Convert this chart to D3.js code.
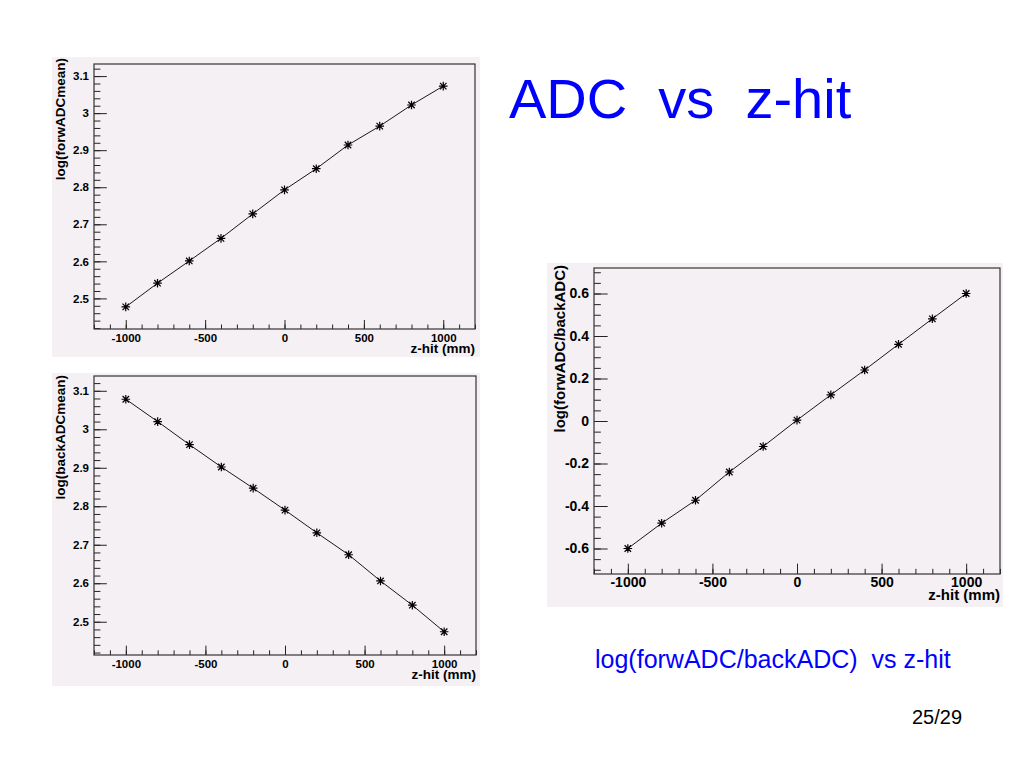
<!DOCTYPE html>
<html>
<head>
<meta charset="utf-8">
<script src="https://cdn.jsdelivr.net/npm/d3@7"></script>
<style>
  body { margin: 0; background: #fff; }
  svg { display: block; font-family: "Liberation Sans", Arial, sans-serif; }
  .pre { white-space: pre; }
</style>
</head>
<body>
<svg width="1024" height="768"></svg>
<script>
// data
var zHit = [-1000, -800, -600, -400, -200, 0, 200, 400, 600, 800, 1000];
var forwADCmean = [2.477, 2.541, 2.601, 2.662, 2.728, 2.793, 2.850, 2.914, 2.965, 3.022, 3.073];
var backADCmean = [3.078, 3.020, 2.960, 2.902, 2.847, 2.790, 2.731, 2.674, 2.606, 2.543, 2.474];
var logRatio = [-0.600, -0.481, -0.373, -0.240, -0.120, 0.004, 0.123, 0.240, 0.361, 0.481, 0.600];

var xTicks = [-1000, -500, 0, 500, 1000];
var meanTicks = [2.5, 2.6, 2.7, 2.8, 2.9, 3.0, 3.1];
var ratioTicks = [-0.6, -0.4, -0.2, 0, 0.2, 0.4, 0.6];

var svg = d3.select("svg");

var panels = [
  {pad: [52, 57, 480, 357], frame: [94, 64, 475, 329], y: forwADCmean, yTicks: meanTicks, yMinor: 0.02,
   title: "log(forwADCmean)", tickFont: 11.5, titleFont: 13.5, titleX: 65, titleY: 58, xPad: 4.8, xTitle: 24},
  {pad: [52, 373, 480, 686], frame: [94, 376, 476, 655], y: backADCmean, yTicks: meanTicks, yMinor: 0.02,
   title: "log(backADCmean)", tickFont: 11.5, titleFont: 13.5, titleX: 65, titleY: 375, xPad: 4.8, xTitle: 24},
  {pad: [547, 263, 1003, 607], frame: [594, 268, 1000, 574], y: logRatio, yTicks: ratioTicks, yMinor: 0.05,
   title: "log(forwADC/backADC)", tickFont: 14, titleFont: 15, titleX: 565, titleY: 265, xPad: 3, xTitle: 26}
];

var fmt = function(d) { return String(Math.round(d * 100) / 100); };

panels.forEach(function(p) {
  var padW = p.pad[2] - p.pad[0], padH = p.pad[3] - p.pad[1];
  var f = p.frame;

  svg.append("rect")
    .attr("x", p.pad[0]).attr("y", p.pad[1])
    .attr("width", padW).attr("height", padH)
    .attr("fill", "#f4f0f3");

  var x = d3.scaleLinear().domain([-1200, 1200]).range([f[0], f[2]]);
  var ext = d3.extent(p.y), m = (ext[1] - ext[0]) * 0.1;
  var y = d3.scaleLinear().domain([ext[0] - m, ext[1] + m]).range([f[3], f[1]]);

  var xMaj = 0.03 * padH, yMaj = 0.03 * padW;
  var xMinor = d3.range(-1200, 1201, 100);
  var yd = y.domain();
  var yMinor = d3.range(Math.ceil(yd[0] / p.yMinor) * p.yMinor, yd[1], p.yMinor);

  var g = svg.append("g");

  // minor ticks
  g.append("g").attr("transform", "translate(0," + f[3] + ")")
    .call(d3.axisBottom(x).tickValues(xMinor).tickSizeInner(-xMaj / 2).tickSizeOuter(0).tickFormat(""));
  g.append("g").attr("transform", "translate(" + f[0] + ",0)")
    .call(d3.axisLeft(y).tickValues(yMinor).tickSizeInner(-yMaj / 2).tickSizeOuter(0).tickFormat(""));

  // major ticks + labels
  g.append("g").attr("transform", "translate(0," + f[3] + ")")
    .call(d3.axisBottom(x).tickValues(xTicks).tickSizeInner(-xMaj).tickSizeOuter(0).tickPadding(p.xPad).tickFormat(fmt));
  g.append("g").attr("transform", "translate(" + f[0] + ",0)")
    .call(d3.axisLeft(y).tickValues(p.yTicks).tickSizeInner(-yMaj).tickSizeOuter(0).tickPadding(5).tickFormat(fmt));

  g.selectAll(".domain").remove();
  g.selectAll(".tick line").attr("stroke", "#222").attr("stroke-width", 1);
  g.selectAll(".tick text")
    .attr("font-family", "'Liberation Sans', Arial, sans-serif")
    .attr("font-weight", "bold")
    .attr("font-size", p.tickFont)
    .attr("fill", "#000");

  // frame
  svg.append("rect")
    .attr("x", f[0]).attr("y", f[1])
    .attr("width", f[2] - f[0]).attr("height", f[3] - f[1])
    .attr("fill", "none").attr("stroke", "#333").attr("stroke-width", 1.2);

  // axis titles
  svg.append("text")
    .attr("x", f[2]).attr("y", f[3] + p.xTitle)
    .attr("text-anchor", "end")
    .attr("font-weight", "bold").attr("font-size", p.titleFont)
    .text("z-hit (mm)");
  svg.append("text")
    .attr("transform", "translate(" + p.titleX + "," + p.titleY + ") rotate(-90)")
    .attr("text-anchor", "end")
    .attr("font-weight", "bold").attr("font-size", p.titleFont)
    .text(p.title);

  var pts = zHit.map(function(z, i) { return [x(z), y(p.y[i])]; });

  svg.append("path")
    .attr("d", d3.line()(pts))
    .attr("fill", "none").attr("stroke", "#000").attr("stroke-width", 0.9);

  // asterisk markers
  var s = 4.3;
  svg.append("g").selectAll("path.mk")
    .data(pts).enter()
    .append("path")
    .attr("class", "mk")
    .attr("d", function(d) {
      var a = s * 0.75;
      return "M" + (d[0] - s) + "," + d[1] + "h" + (2 * s) +
        "M" + d[0] + "," + (d[1] - s) + "v" + (2 * s) +
        "M" + (d[0] - a) + "," + (d[1] - a) + "l" + (2 * a) + "," + (2 * a) +
        "M" + (d[0] - a) + "," + (d[1] + a) + "l" + (2 * a) + "," + (-2 * a);
    })
    .attr("stroke", "#000").attr("stroke-width", 1.2).attr("fill", "none");
});

// slide texts
svg.append("text").attr("class", "pre")
  .attr("x", 509).attr("y", 118)
  .attr("font-size", 56).attr("fill", "#0000ff")
  .text("ADC  vs  z-hit");

svg.append("text").attr("class", "pre")
  .attr("x", 595).attr("y", 668)
  .attr("font-size", 25).attr("fill", "#0000ff")
  .text("log(forwADC/backADC)  vs z-hit");

svg.append("text")
  .attr("x", 912).attr("y", 724)
  .attr("font-size", 20).attr("fill", "#000")
  .text("25/29");
</script>
</body>
</html>
